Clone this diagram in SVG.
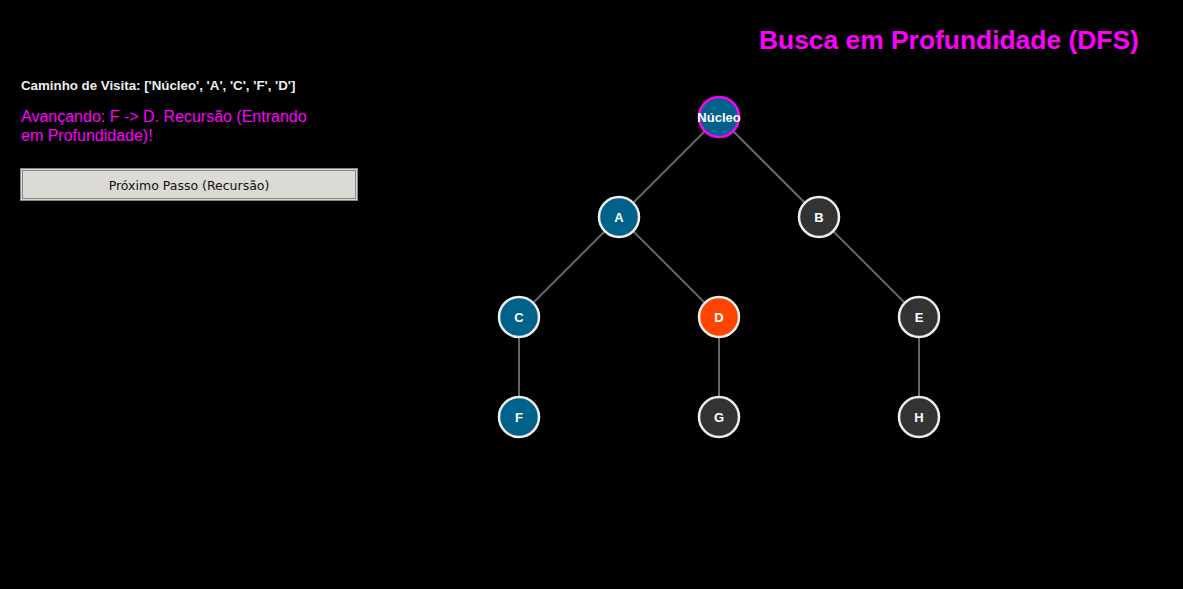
<svg xmlns="http://www.w3.org/2000/svg" width="1183" height="589" viewBox="0 0 1183 589">
<style>
.bg{fill:#000}
.edge{stroke:#666;stroke-width:2}
.node circle{stroke:#eee;stroke-width:2.5}
.node text{font-family:"Liberation Sans",Arial,sans-serif;font-weight:bold;font-size:13px;fill:#fff;text-anchor:middle}
.visited{fill:#00618a}
.pending{fill:#333}
.current{fill:#ff4500}
</style>
<rect class="bg" x="0" y="0" width="1183" height="589"/>
<text x="759" y="49" font-family="Liberation Sans, Arial, sans-serif" font-weight="bold" font-size="26.4" fill="#ff00ff">Busca em Profundidade (DFS)</text>
<text x="21" y="90" font-family="Liberation Sans, Arial, sans-serif" font-weight="bold" font-size="13.3" fill="#eee">Caminho de Visita: ['Núcleo', 'A', 'C', 'F', 'D']</text>
<text font-family="Liberation Sans, Arial, sans-serif" font-size="16" fill="#ff00ff"><tspan x="21" y="122">Avançando: F -&gt; D. Recursão (Entrando</tspan><tspan x="21" y="141">em Profundidade)!</tspan></text>
<g id="button">
<rect x="20.5" y="168.5" width="337" height="32" fill="#dcdad5" stroke="#888" stroke-width="1"/>
<rect x="22.5" y="170.5" width="333" height="28" fill="none" stroke="#333" stroke-width="1" stroke-dasharray="1,1"/>
<text x="189" y="190" font-family="DejaVu Sans, sans-serif" font-size="12.5" fill="#111" text-anchor="middle">Próximo Passo (Recursão)</text>
</g>
<g id="connectors">
<line class="edge" x1="719" y1="117" x2="619" y2="217"/>
<line class="edge" x1="719" y1="117" x2="819" y2="217"/>
<line class="edge" x1="619" y1="217" x2="519" y2="317"/>
<line class="edge" x1="619" y1="217" x2="719" y2="317"/>
<line class="edge" x1="819" y1="217" x2="919" y2="317"/>
<line class="edge" x1="519" y1="317" x2="519" y2="417"/>
<line class="edge" x1="719" y1="317" x2="719" y2="417"/>
<line class="edge" x1="919" y1="317" x2="919" y2="417"/>
</g>
<g id="node-nucleo" class="node"><circle class="visited" cx="719" cy="117" r="20" style="stroke:#ff00ff"/><text x="719" y="122">Núcleo</text></g>
<g id="node-A" class="node"><circle class="visited" cx="619" cy="217" r="20"/><text x="619" y="222">A</text></g>
<g id="node-B" class="node"><circle class="pending" cx="819" cy="217" r="20"/><text x="819" y="222">B</text></g>
<g id="node-C" class="node"><circle class="visited" cx="519" cy="317" r="20"/><text x="519" y="322">C</text></g>
<g id="node-D" class="node"><circle class="current" cx="719" cy="317" r="20"/><text x="719" y="322">D</text></g>
<g id="node-E" class="node"><circle class="pending" cx="919" cy="317" r="20"/><text x="919" y="322">E</text></g>
<g id="node-F" class="node"><circle class="visited" cx="519" cy="417" r="20"/><text x="519" y="422">F</text></g>
<g id="node-G" class="node"><circle class="pending" cx="719" cy="417" r="20"/><text x="719" y="422">G</text></g>
<g id="node-H" class="node"><circle class="pending" cx="919" cy="417" r="20"/><text x="919" y="422">H</text></g>
</svg>
